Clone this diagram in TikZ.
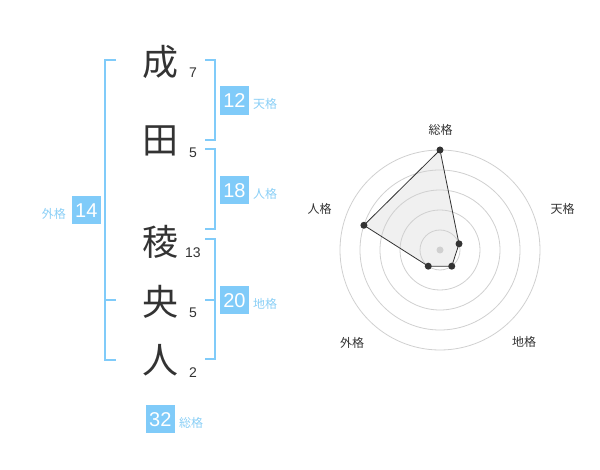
\documentclass[tikz,border=0pt]{standalone}
\usepackage{fontspec}
\setmainfont{Liberation Sans}
\newfontfamily\jp{Noto Sans CJK JP}
\definecolor{brk}{HTML}{80CBF9}
\definecolor{lbl}{HTML}{8ACFF6}
\definecolor{ink}{HTML}{333333}
\definecolor{ring}{HTML}{D0D0D0}
\definecolor{area}{HTML}{F0F0F0}
\begin{document}
\begin{tikzpicture}[x=1pt,y=-1pt,
 kanji/.style={font=\jp\fontsize{36}{36}\selectfont, text=ink, inner sep=0pt},
 strokes/.style={font=\fontsize{14}{14}\selectfont, text=ink, inner sep=0pt},
 numbox/.style={fill=brk, text=white, font=\fontsize{20}{20}\selectfont, minimum width=28.5pt, minimum height=28.5pt, inner sep=0pt},
 kaku/.style={font=\jp\fontsize{12}{12}\selectfont, text=lbl, inner sep=0pt},
 bracket/.style={draw=brk, line width=2pt},
 axislbl/.style={font=\jp\fontsize{12}{12}\selectfont, text=ink, inner sep=0pt},
 ringc/.style={draw=ring, line width=0.8pt},
 dot/.style={circle, fill=ink, inner sep=0pt, minimum size=7pt},
 edge/.style={draw=ink, line width=0.8pt}]
\useasboundingbox (0,0) rectangle (600,470);

% characters
\node[kanji] (c1) at (160,61.5) {成};
\node[kanji] (c2) at (160,141) {田};
\node[kanji] (c3) at (160,241.5) {稜};
\node[kanji] (c4) at (160,301.5) {央};
\node[kanji] (c5) at (160,360) {人};
\node[strokes] (s1) at (193,72.5) {7};
\node[strokes] (s2) at (193,152.5) {5};
\node[strokes] (s3) at (193,252.5) {13};
\node[strokes] (s4) at (193,312.5) {5};
\node[strokes] (s5) at (193,373) {2};

% brackets
\draw[bracket] (116,60) -- (105,60) -- (105,360) -- (116,360);
\draw[bracket] (105,300) -- (116,300);
\draw[bracket] (205,60) -- (215,60) -- (215,140) -- (205,140);
\draw[bracket] (205,149.5) -- (215,149.5) -- (215,229.5) -- (205,229.5);
\draw[bracket] (205,239.5) -- (215,239.5) -- (215,359.5) -- (205,359.5);
\draw[bracket] (205,300) -- (215,300);

% boxes
\node[numbox] (b12) at (234.5,100.3) {12};
\node[kaku, anchor=west] (l12) at (253,104) {天格};
\node[numbox] (b18) at (234.5,190.2) {18};
\node[kaku, anchor=west] (l18) at (253,194) {人格};
\node[numbox] (b14) at (86.3,210.2) {14};
\node[kaku, anchor=east] (l14) at (66,214) {外格};
\node[numbox] (b20) at (234.5,300.2) {20};
\node[kaku, anchor=west] (l20) at (253,304) {地格};
\node[numbox] (b32) at (160.3,419.2) {32};
\node[kaku, anchor=west] (l32) at (179,422.5) {総格};

% radar
\begin{scope}[shift={(440,250)}, yscale=-1]
 \coordinate (psou) at (90:100);
 \coordinate (pten) at (18:20);
 \coordinate (pchi) at (-54:20);
 \coordinate (pgai) at (-126:20);
 \coordinate (pjin) at (162:80);
 \fill[area] (psou) -- (pten) -- (pchi) -- (pgai) -- (pjin) -- cycle;
 \foreach \r in {20,40,60,80,100} \draw[ringc] (0,0) circle[radius=\r];
 \fill[ring] (0,0) circle[radius=3.5];
 \draw[edge] (psou) -- (pten) -- (pchi) -- (pgai) -- (pjin) -- cycle;
 \foreach \p in {psou,pten,pchi,pgai,pjin} \node[dot] (d\p) at (\p) {};
\end{scope}
\node[axislbl] (asou) at (440.5,130) {総格};
\node[axislbl] (aten) at (562.5,208.5) {天格};
\node[axislbl] (ajin) at (319.5,209) {人格};
\node[axislbl] (agai) at (352,342.5) {外格};
\node[axislbl] (achi) at (524,341.5) {地格};
\end{tikzpicture}
\end{document}
